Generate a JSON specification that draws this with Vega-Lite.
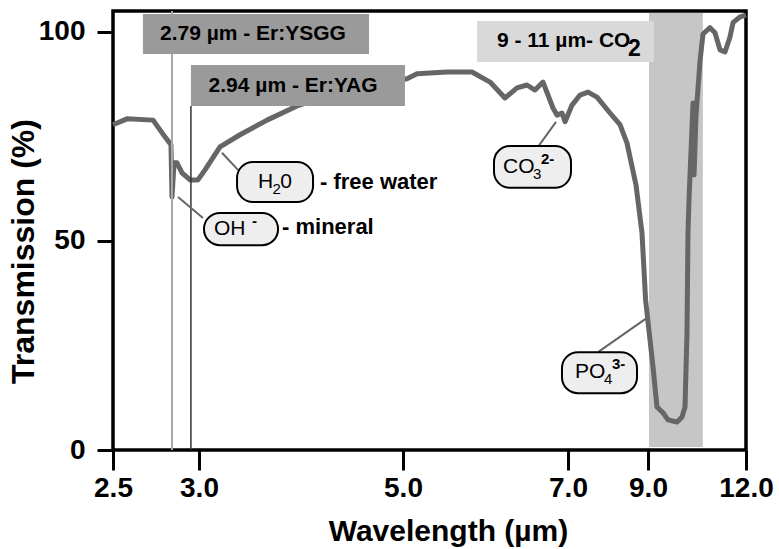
{
  "$schema": "https://vega.github.io/schema/vega-lite/v6.json",
  "width": 633,
  "height": 439,
  "autosize": {"type": "none"},
  "padding": {"left": 113, "top": 11, "right": 33, "bottom": 99},
  "background": "white",
  "config": {"view": {"stroke": "black", "strokeWidth": 3.5}, "font": "Liberation Sans"},
  "datasets": {
    "spectrum": [
      {"x": 2.5, "y": 77.8}, {"x": 2.581, "y": 79.2}, {"x": 2.733, "y": 78.9}, {"x": 2.802, "y": 74.9},
      {"x": 2.837, "y": 73.0}, {"x": 2.843, "y": 60.5}, {"x": 2.855, "y": 68.7}, {"x": 2.872, "y": 68.7},
      {"x": 2.901, "y": 66.3}, {"x": 2.948, "y": 64.6}, {"x": 2.994, "y": 64.6}, {"x": 3.059, "y": 67.0},
      {"x": 3.206, "y": 72.5}, {"x": 3.402, "y": 75.4}, {"x": 3.667, "y": 78.9}, {"x": 3.961, "y": 82.3},
      {"x": 4.48, "y": 86.3}, {"x": 5.048, "y": 88.8}, {"x": 5.17, "y": 90.0}, {"x": 5.533, "y": 90.4},
      {"x": 5.836, "y": 90.4}, {"x": 6.055, "y": 88.0}, {"x": 6.236, "y": 84.2}, {"x": 6.382, "y": 86.6},
      {"x": 6.503, "y": 87.3}, {"x": 6.6, "y": 86.1}, {"x": 6.697, "y": 88.0}, {"x": 6.818, "y": 81.8},
      {"x": 6.867, "y": 80.1}, {"x": 6.927, "y": 80.6}, {"x": 6.964, "y": 78.5}, {"x": 7.1, "y": 82.5},
      {"x": 7.3, "y": 84.9}, {"x": 7.5, "y": 85.6}, {"x": 7.725, "y": 84.4}, {"x": 8.05, "y": 80.6},
      {"x": 8.3, "y": 77.8}, {"x": 8.475, "y": 73.4}, {"x": 8.7, "y": 63.4}, {"x": 8.85, "y": 51.9},
      {"x": 8.94, "y": 35.9}, {"x": 9.153, "y": 19.9}, {"x": 9.275, "y": 10.3}, {"x": 9.459, "y": 8.9},
      {"x": 9.612, "y": 7.2}, {"x": 9.888, "y": 6.7}, {"x": 10.041, "y": 7.9}, {"x": 10.133, "y": 10.3},
      {"x": 10.194, "y": 28.0}, {"x": 10.224, "y": 51.9}, {"x": 10.255, "y": 59.8}, {"x": 10.378, "y": 83.0},
      {"x": 10.41, "y": 65.8}, {"x": 10.47, "y": 80.0}, {"x": 10.592, "y": 93.0}, {"x": 10.684, "y": 99.5},
      {"x": 10.898, "y": 101.0}, {"x": 11.051, "y": 99.8}, {"x": 11.204, "y": 95.7}, {"x": 11.357, "y": 95.2},
      {"x": 11.51, "y": 98.8}, {"x": 11.602, "y": 102.2}, {"x": 11.816, "y": 103.6}, {"x": 12.0, "y": 104.0}
    ],
    "hatch": [{"x": 9.03, "x2": 10.68, "y": 0.7, "y2": 104.5}],
    "ysggLine": [{"x": 2.843, "y": 0, "y2": 105}],
    "yagLine": [{"x": 2.953, "y": 0, "y2": 82.3}],
    "leaders": [
      {"x": 3.225, "y": 71.1, "x2": 3.382, "y2": 67.0},
      {"x": 2.878, "y": 60.5, "x2": 3.039, "y2": 55.5},
      {"x": 6.855, "y": 78.5, "x2": 6.636, "y2": 72.5},
      {"x": 8.975, "y": 31.6, "x2": 7.75, "y2": 23.4}
    ],
    "laserBoxes": [
      {"laser": "YSGG", "x": 2.674, "x2": 4.667, "y": 94.7, "y2": 104.3},
      {"laser": "YAG", "x": 2.953, "x2": 5.024, "y": 82.3, "y2": 92.1},
      {"laser": "CO2", "x": 5.897, "x2": 9.184, "y": 92.8, "y2": 102.6}
    ],
    "laserText": [
      {"x": 3.529, "y": 99.5, "label": "2.79 µm - Er:YSGG"},
      {"x": 3.922, "y": 87.1, "label": "2.94 µm - Er:YAG"}
    ],
    "laserBase": [
      {"x": 6.139, "y": 97.8, "label": "9 - 11 µm- CO"}
    ],
    "laserSub": [
      {"x": 8.5, "y": 97.8, "label": "2"}
    ],
    "callouts": [
      {"x": 3.373, "x2": 4.118, "y": 59.3, "y2": 68.9},
      {"x": 3.049, "x2": 3.775, "y": 49.0, "y2": 56.7},
      {"x": 6.103, "x2": 7.075, "y": 62.7, "y2": 72.7},
      {"x": 6.927, "x2": 8.725, "y": 13.6, "y2": 23.4}
    ],
    "chemBase": [
      {"x": 3.578, "y": 64.1, "label": "H"},
      {"x": 3.797, "y": 64.1, "label": "0"},
      {"x": 3.147, "y": 52.9, "label": "OH"},
      {"x": 6.212, "y": 67.7, "label": "CO"},
      {"x": 7.175, "y": 18.7, "label": "PO"}
    ],
    "chemSub": [
      {"x": 3.721, "y": 64.1, "label": "2"},
      {"x": 6.576, "y": 67.7, "label": "3"},
      {"x": 7.9, "y": 18.7, "label": "4"}
    ],
    "chemSup": [
      {"x": 3.52, "y": 52.9, "label": "-"},
      {"x": 6.673, "y": 67.7, "label": "2-"},
      {"x": 8.1, "y": 18.7, "label": "3-"}
    ],
    "sideText": [
      {"x": 4.186, "y": 64.1, "label": "- free water"},
      {"x": 3.814, "y": 53.3, "label": "- mineral"}
    ]
  },
  "encoding": {
    "x": {
      "field": "x", "type": "quantitative",
      "scale": {"domain": [2.5, 3, 5, 7, 9, 12], "range": [0, 86, 290, 455, 535, 633], "nice": false, "zero": false},
      "axis": {
        "values": [2.5, 3, 5, 7, 9, 12], "format": ".1f", "title": "Wavelength (µm)",
        "domain": false, "grid": false, "tickSize": 20, "tickWidth": 3, "tickColor": "black",
        "labelFontSize": 28, "labelFont": "Liberation Sans", "labelFontWeight": "bold", "labelColor": "black",
        "labelPadding": 4, "labelFlush": false, "labelOverlap": false,
        "titleFont": "Liberation Sans", "titleFontSize": 30, "titleFontWeight": "bold", "titleColor": "black",
        "titleX": 335, "titleY": 90, "titleBaseline": "alphabetic"
      }
    },
    "y": {
      "field": "y", "type": "quantitative",
      "scale": {"domain": [0, 105], "nice": false, "zero": false},
      "axis": {
        "values": [0, 50, 100], "title": "Transmission (%)",
        "domain": false, "grid": false, "tickSize": 16, "tickWidth": 3, "tickColor": "black",
        "labelFontSize": 28, "labelFont": "Liberation Sans", "labelFontWeight": "bold", "labelColor": "black",
        "labelPadding": 12,
        "titleFont": "Liberation Sans", "titleFontSize": 32, "titleFontWeight": "bold", "titleColor": "black",
        "titleX": -80, "titleY": 240, "titleAngle": -90, "titleAlign": "center", "titleBaseline": "alphabetic"
      }
    }
  },
  "layer": [
    {
      "data": {"name": "hatch"},
      "mark": {"type": "rect", "fill": "#c6c6c6"},
      "encoding": {"x2": {"field": "x2"}, "y2": {"field": "y2"}}
    },
    {
      "data": {"name": "spectrum"},
      "mark": {"type": "line", "color": "#666666", "strokeWidth": 5, "strokeJoin": "round"}
    },
    {
      "data": {"name": "ysggLine"},
      "mark": {"type": "rule", "color": "#a8a8a8", "strokeWidth": 2},
      "encoding": {"y2": {"field": "y2"}}
    },
    {
      "data": {"name": "yagLine"},
      "mark": {"type": "rule", "color": "#333333", "strokeWidth": 1.5},
      "encoding": {"y2": {"field": "y2"}}
    },
    {
      "data": {"name": "leaders"},
      "mark": {"type": "rule", "color": "#666666", "strokeWidth": 2},
      "encoding": {"x2": {"field": "x2"}, "y2": {"field": "y2"}}
    },
    {
      "data": {"name": "laserBoxes"},
      "mark": {"type": "rect"},
      "encoding": {
        "x2": {"field": "x2"}, "y2": {"field": "y2"},
        "fill": {"field": "laser", "type": "nominal", "scale": {"domain": ["YSGG", "YAG", "CO2"], "range": ["#9a9a9a", "#9a9a9a", "#d9d9d9"]}, "legend": null}
      }
    },
    {
      "data": {"name": "laserText"},
      "mark": {"type": "text", "font": "Liberation Sans", "fontSize": 21, "fontWeight": "bold", "color": "black", "align": "center", "baseline": "middle"},
      "encoding": {"text": {"field": "label"}}
    },
    {
      "data": {"name": "laserBase"},
      "mark": {"type": "text", "font": "Liberation Sans", "fontSize": 21, "fontWeight": "bold", "color": "black", "align": "left", "baseline": "middle"},
      "encoding": {"text": {"field": "label"}}
    },
    {
      "data": {"name": "laserSub"},
      "mark": {"type": "text", "font": "Liberation Sans", "fontSize": 23, "fontWeight": "bold", "color": "black", "align": "left", "baseline": "middle", "dy": 8},
      "encoding": {"text": {"field": "label"}}
    },
    {
      "data": {"name": "callouts"},
      "mark": {"type": "rect", "cornerRadius": 16, "fill": "#eeeeee", "stroke": "black", "strokeWidth": 2},
      "encoding": {"x2": {"field": "x2"}, "y2": {"field": "y2"}}
    },
    {
      "data": {"name": "chemBase"},
      "mark": {"type": "text", "font": "Liberation Sans", "fontSize": 21, "color": "black", "align": "left", "baseline": "middle"},
      "encoding": {"text": {"field": "label"}}
    },
    {
      "data": {"name": "chemSub"},
      "mark": {"type": "text", "font": "Liberation Sans", "fontSize": 15, "color": "black", "align": "left", "baseline": "middle", "dy": 7},
      "encoding": {"text": {"field": "label"}}
    },
    {
      "data": {"name": "chemSup"},
      "mark": {"type": "text", "font": "Liberation Sans", "fontSize": 15, "fontWeight": "bold", "color": "black", "align": "left", "baseline": "middle", "dy": -8},
      "encoding": {"text": {"field": "label"}}
    },
    {
      "data": {"name": "sideText"},
      "mark": {"type": "text", "font": "Liberation Sans", "fontSize": 22, "fontWeight": "bold", "color": "black", "align": "left", "baseline": "middle"},
      "encoding": {"text": {"field": "label"}}
    }
  ]
}
